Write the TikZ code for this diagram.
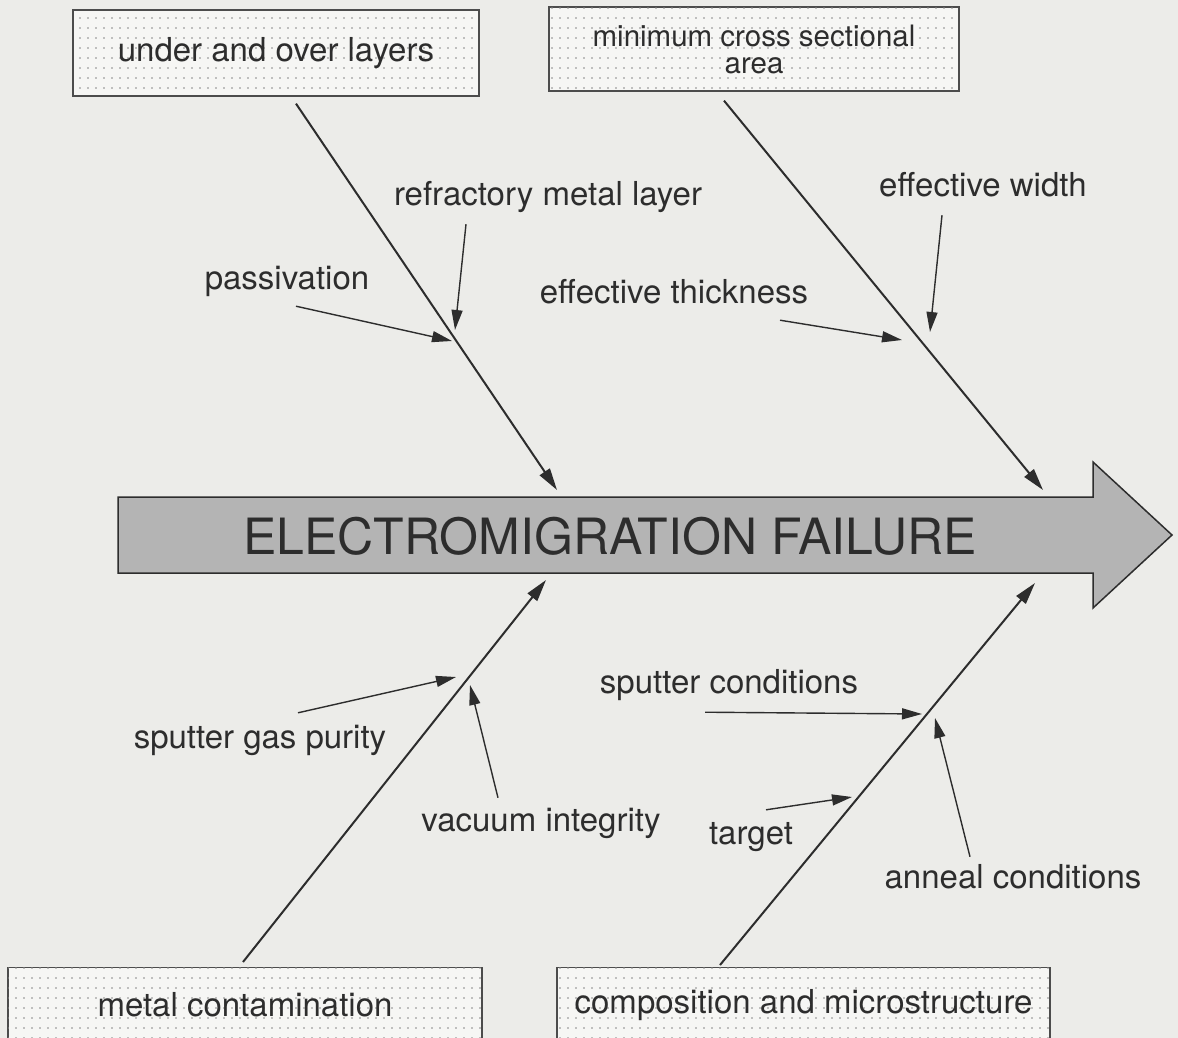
\documentclass[tikz,border=0pt]{standalone}
\usepackage{fontspec}
\setmainfont{TeX Gyre Heros}
\usetikzlibrary{arrows.meta,patterns.meta}
\definecolor{paper}{RGB}{236,236,233}
\definecolor{boxfill}{RGB}{246,246,244}
\definecolor{dotgray}{RGB}{135,135,135}
\definecolor{shaft}{RGB}{180,180,180}
\definecolor{ink}{RGB}{45,45,45}
\tikzdeclarepattern{
  name=speckle, type=uncolored,
  bounding box={(-4pt,-5pt) and (4pt,5pt)},
  tile size={(8pt,10pt)},
  code={\fill (0pt,0pt) circle (0.8pt);}
}
\tikzset{
  causebox/.style={draw=ink!85, line width=1.3pt, fill=boxfill,
    postaction={pattern=speckle, pattern color=dotgray}, align=center,
    text=ink, font=\fontsize{33}{38}\selectfont},
  factor/.style={text=ink, inner sep=0pt, text height=23pt, text depth=7pt,
    font=\fontsize{33}{38}\selectfont},
  bone/.style={-{Triangle[length=22pt,width=12pt]}, line width=2pt, draw=ink},
  twig/.style={-{Triangle[length=20pt,width=11pt]}, line width=1.4pt, draw=ink}
}
\begin{document}
\begin{tikzpicture}[x=1pt, y=-1pt]
  \clip (0,0) rectangle (1178,1038);
  \fill[paper] (0,0) rectangle (1178,1038);
  % cause boxes
  \node[causebox, minimum width=406pt, minimum height=86pt] (layers) at (276,53) {under and over layers};
  \node[causebox, minimum width=410pt, minimum height=84pt, font=\fontsize{29.5}{27}\selectfont] (area) at (754,49) {minimum cross sectional\\area};
  \node[causebox, minimum width=474pt, minimum height=74pt, anchor=north] (contam) at (245,967) {metal contamination};
  \node[causebox, minimum width=493pt, minimum height=74pt, anchor=north] (micro) at (803.5,967) {composition and microstructure};
  % spine
  \draw[draw=ink, line width=1.5pt, fill=shaft] (118,497) -- (1093,497) -- (1093,462) -- (1172,535)
    -- (1093,608) -- (1093,573) -- (118,573) -- cycle;
  \node[text=ink, font=\fontsize{50}{56}\selectfont] (failure) at (610,536) {ELECTROMIGRATION FAILURE};
  % bones
  \coordinate (layersend) at (557,490);
  \coordinate (areaend) at (1043,490);
  \coordinate (contamend) at (546,580);
  \coordinate (microend) at (1035,583);
  \draw[bone] ([xshift=20pt,yshift=-7pt]layers.south) -- (layersend);
  \draw[bone] ([xshift=-30pt,yshift=-9pt]area.south) -- (areaend);
  \draw[bone] ([xshift=-2pt,yshift=5pt]contam.north) -- (contamend);
  \draw[bone] ([xshift=-83.5pt,yshift=2pt]micro.north) -- (microend);
  % factors
  \node[factor] (passiv) at (287,281) {passivation};
  \node[factor] (refract) at (548,197) {refractory metal layer};
  \node[factor] (thick) at (674,295) {effective thickness};
  \node[factor] (width) at (983,188) {effective width};
  \node[factor] (gaspur) at (260,740) {sputter gas purity};
  \node[factor] (vacuum) at (541,823) {vacuum integrity};
  \node[factor] (sputcond) at (729,685) {sputter conditions};
  \node[factor] (target) at (751,836) {target};
  \node[factor] (anneal) at (1013,880) {anneal conditions};
  \coordinate (passivtip) at (452,341);
  \coordinate (refracttip) at (455,330);
  \coordinate (thicktip) at (902,340);
  \coordinate (widthtip) at (930,332);
  \coordinate (gaspurtip) at (456,677);
  \coordinate (vacuumtip) at (470,685);
  \coordinate (sputcondtip) at (922,714);
  \coordinate (targettip) at (852,797);
  \coordinate (annealtip) at (935,718);
  \draw[twig] ([xshift=9pt,yshift=-10pt]passiv.south) -- (passivtip);
  \draw[twig] ([xshift=-82pt,yshift=-12pt]refract.south) -- (refracttip);
  \draw[twig] ([xshift=106pt,yshift=-10pt]thick.south) -- (thicktip);
  \draw[twig] ([xshift=-41pt,yshift=-12pt]width.south) -- (widthtip);
  \draw[twig] ([xshift=38pt,yshift=12pt]gaspur.north) -- (gaspurtip);
  \draw[twig] ([xshift=-43pt,yshift=10pt]vacuum.north) -- (vacuumtip);
  \draw[twig] ([xshift=-24pt,yshift=-12pt]sputcond.south) -- (sputcondtip);
  \draw[twig] ([xshift=15pt,yshift=11pt]target.north) -- (targettip);
  \draw[twig] ([xshift=-43pt,yshift=8pt]anneal.north) -- (annealtip);
\end{tikzpicture}
\end{document}
